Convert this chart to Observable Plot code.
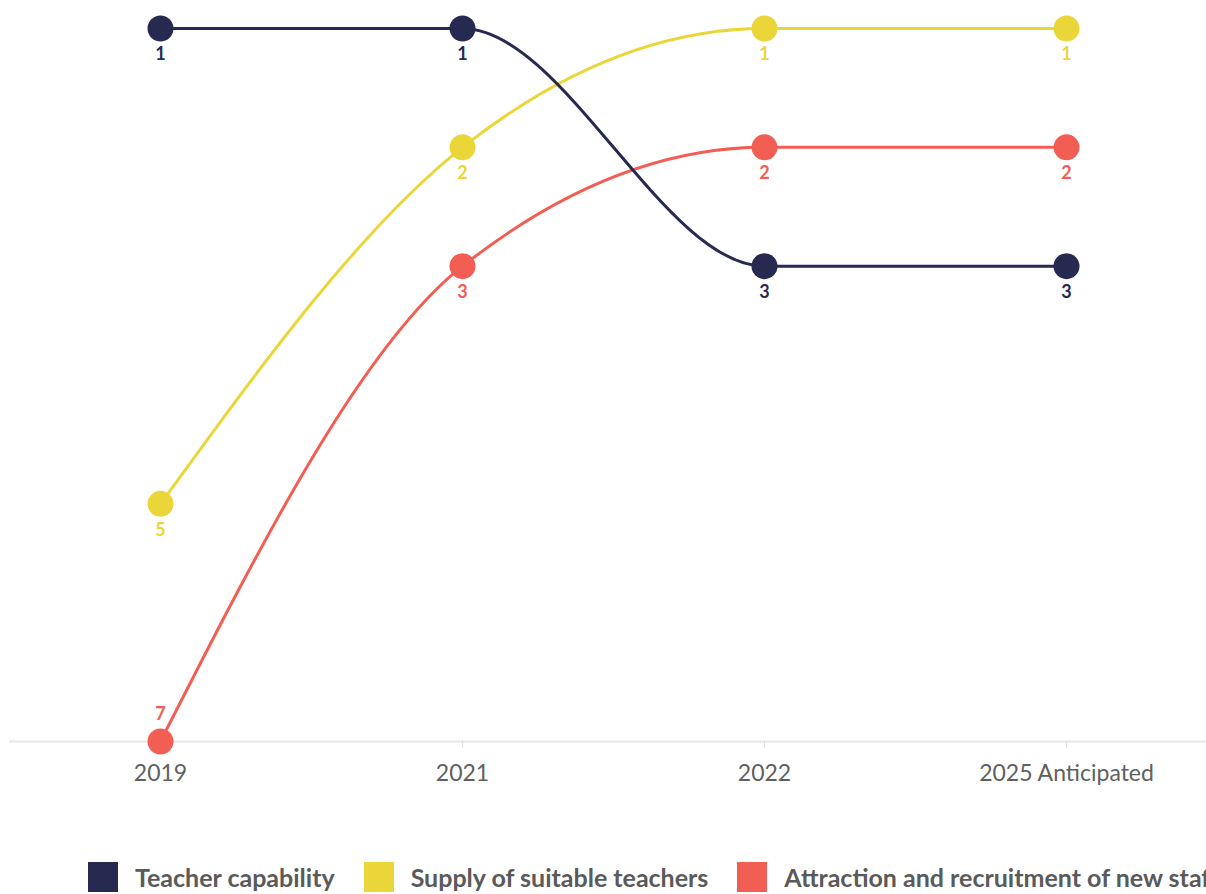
<!DOCTYPE html>
<html>
<head>
<meta charset="utf-8">
<script src="https://cdn.jsdelivr.net/npm/d3@7"></script>
<script src="https://cdn.jsdelivr.net/npm/@observablehq/plot@0.6"></script>
<style>
  html, body { margin: 0; padding: 0; background: #fff; overflow: hidden; width: 1206px; height: 894px; }
  #chart { position: absolute; left: 0; top: 0; width: 1220px; }
  #legend {
    position: absolute; left: 88px; top: 862px;
    display: flex; align-items: center; white-space: nowrap;
    font-family: Lato, "Open Sans", sans-serif; font-weight: 700; font-size: 25px; color: #5a5a5a;
  }
  .item { display: flex; align-items: center; margin-right: 29px; }
  .swatch { width: 30px; height: 30px; margin-right: 17px; flex: none; }
</style>
</head>
<body>
<div id="chart"></div>
<div id="legend"></div>
<script>
// Survey years (x categories)
const years = ["2019", "2021", "2022", "2025 Anticipated"];

// Ranking of each challenge per year (1 = top concern)
const teacherCapability = [1, 1, 3, 3];
const supplyOfTeachers = [5, 2, 1, 1];
const attractionRecruitment = [7, 3, 2, 2];

const seriesNames = ["Teacher capability", "Supply of suitable teachers", "Attraction and recruitment of new staff"];
const seriesColors = ["#262950", "#ebd63a", "#f25e54"];
const seriesValues = [teacherCapability, supplyOfTeachers, attractionRecruitment];

const rows = seriesNames.flatMap((name, i) =>
  years.map((year, j) => ({ series: name, year, rank: seriesValues[i][j], color: seriesColors[i] }))
);

const maxRank = 7;
const drawOrder = [1, 2, 0];

const marks = [
  Plot.ruleY([maxRank], { stroke: "#e8e8e8", strokeWidth: 2 }),
  Plot.axisX({ tickSize: 7, tickPadding: 16, fontSize: 23, stroke: "#e0e0e0", color: "#606060", fill: "#606060" })
];
for (const i of drawOrder) {
  const data = rows.filter(d => d.series === seriesNames[i]);
  marks.push(
    Plot.line(data, { x: "year", y: "rank", stroke: seriesColors[i], strokeWidth: 3, curve: "monotone-x" }),
    Plot.dot(data, { x: "year", y: "rank", r: 13, fill: seriesColors[i] }),
    Plot.text(data.filter(d => d.rank !== maxRank), {
      x: "year", y: "rank", text: d => String(d.rank), dy: 26,
      fill: seriesColors[i], fontSize: 18, fontWeight: "bold"
    }),
    Plot.text(data.filter(d => d.rank === maxRank), {
      x: "year", y: "rank", text: d => String(d.rank), dy: -27,
      fill: seriesColors[i], fontSize: 18, fontWeight: "bold"
    })
  );
}

const chart = Plot.plot({
  width: 1220,
  height: 800,
  marginTop: 28,
  marginBottom: 59,
  marginLeft: 9,
  marginRight: 3,
  style: { fontFamily: "Lato, 'Open Sans', sans-serif", background: "#fff", maxWidth: "none" },
  x: { type: "point", domain: years, padding: 0.5, label: null },
  y: { domain: [1, maxRank], reverse: true, axis: null },
  marks
});
document.getElementById("chart").appendChild(chart);

const legend = document.getElementById("legend");
seriesNames.forEach((name, i) => {
  const item = document.createElement("div");
  item.className = "item";
  const sw = document.createElement("span");
  sw.className = "swatch";
  sw.style.background = seriesColors[i];
  const label = document.createElement("span");
  label.textContent = name;
  item.append(sw, label);
  legend.appendChild(item);
});
</script>
</body>
</html>
